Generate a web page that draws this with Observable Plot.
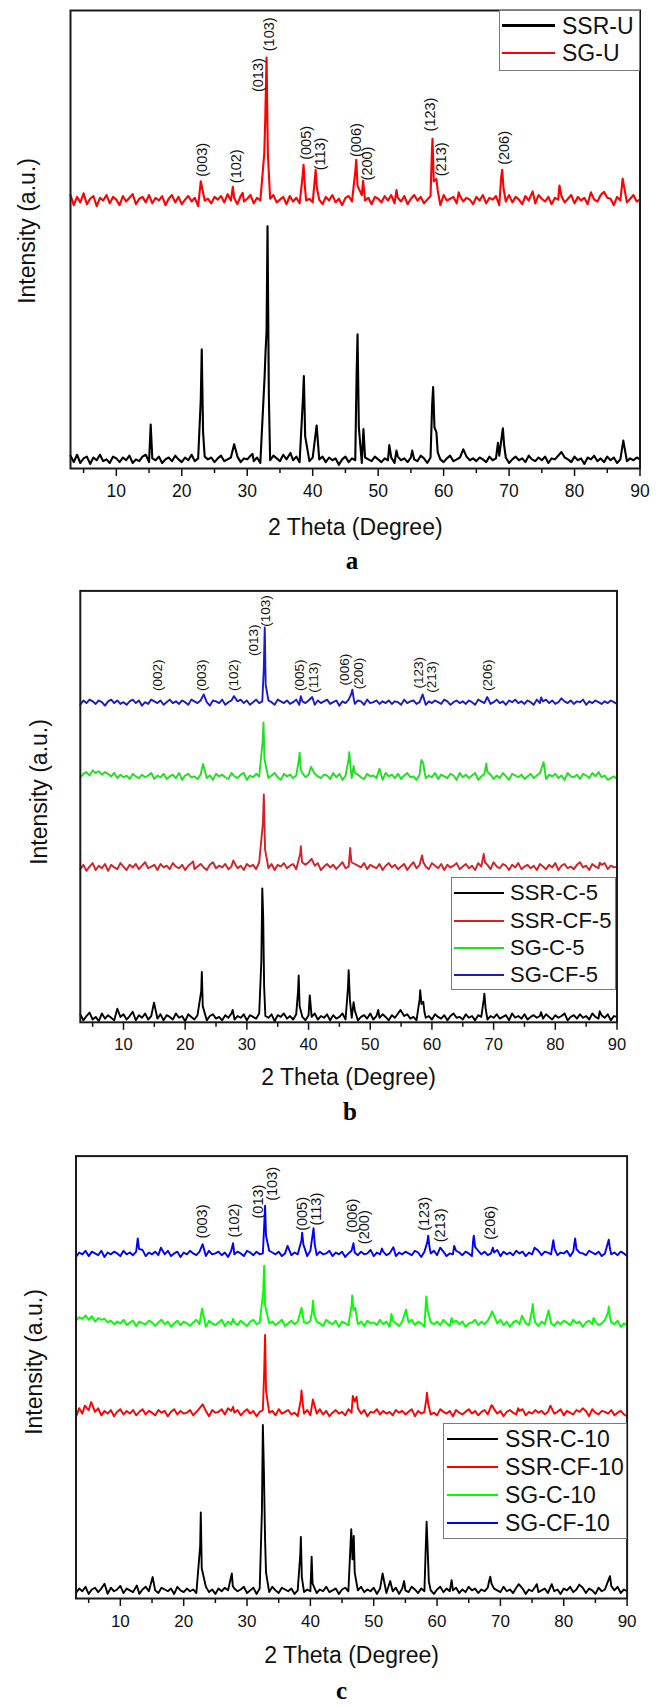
<!DOCTYPE html>
<html><head><meta charset="utf-8">
<script src="https://cdn.jsdelivr.net/npm/d3@7"></script>
<script src="https://cdn.jsdelivr.net/npm/@observablehq/plot@0.6"></script>
<style>
body{margin:0;background:#fff;font-family:"Liberation Sans",Arial,sans-serif;}
#root{position:relative;width:662px;height:1707px;overflow:hidden;}
.panel{position:absolute;left:0;width:662px;}
.legend{position:absolute;background:#fff;border:1px solid #7a7a7a;box-sizing:border-box;}
.sw{position:absolute;height:2.5px;}
.lt{position:absolute;height:30px;line-height:30px;white-space:nowrap;color:#111;font-family:"Liberation Sans",Arial,sans-serif;}
.cap{position:absolute;z-index:10;font-family:"Liberation Serif","Times New Roman",serif;font-weight:bold;font-size:25px;line-height:18px;transform:translate(-50%,-50%);}
.ytitle{position:absolute;z-index:10;white-space:nowrap;font-size:23px;line-height:26px;color:#111;transform:translate(-50%,-50%) rotate(-90deg);font-family:"Liberation Sans",Arial,sans-serif;}
</style></head>
<body><div id="root"></div>
<script>
// ---- shared axis data ----
const twoTheta = d3.range(3, 90.001, 0.5);          // sampling grid (degrees)
const majorTicks = [10, 20, 30, 40, 50, 60, 70, 80, 90];
const minorTicks = [5, 15, 25, 35, 45, 55, 65, 75, 85];
const hkl = ["(003)","(102)","(013)","(103)","(005)","(113)","(006)","(200)","(123)","(213)","(206)"];
const xTitle = "2 Theta (Degree)";
const yTitle = "Intensity (a.u.)";

// ================= Panel a =================
const namesA = ["SSR-U", "SG-U"];
const colorsA = ["#000000", "#ff0000"];
const offsetsA = [0, 567];
const noiseSSRU = [
28,14,30,12,22,26,10,24,18,30,16,20,12,26,22,14,24,18,28,12,20,16,26,30,14,
22,18,26,12,20,24,16,28,20,14,24,18,30,16,22,12,26,20,24,14,22,28,16,20,24,
18,26,14,22,20,28,16,24,12,26,20,18,28,22,16,30,20,24,18,26,14,22,20,16,24,
12,20,26,14,24,18,22,8,20,26,14,22,18,28,12,24,20,16,26,20,14,22,18,24,12,
26,18,22,14,24,20,16,28,22,12,24,18,26,20,14,22,28,16,20,24,12,26,18,22,16,
24,20,14,26,18,22,28,16,24,12,20,26,18,22,14,28,20,16,24,18,26,12,22,20,28,
16,24,20,14,26,18,22,10,24,20,28,16,22,14,26,18,24,12,20,26,16,22,18,24,20];
const peaksSSRU = [[15.25,96],[22.9,150],[23.05,260],[23.25,80],[28.0,53],[30.8,32],
[32.65,200],[32.8,256],[32.95,300],[33.1,529],[33.3,160],[36.6,34],
[38.5,150],[38.65,202],[38.85,70],[40.6,94],[46.7,200],[46.85,293],[47.05,90],[47.75,86],
[51.7,51],[52.8,39],[55.2,39],[58.25,140],[58.4,178],[58.6,90],[58.9,79],[59.1,35],
[63.0,42],[68.3,56],[69.05,88],[69.25,50],[78.0,36],[87.45,61]];
const noiseSGU = [
30,8,26,14,34,10,22,28,6,24,18,30,12,26,20,8,28,16,24,32,10,22,26,14,30,
12,24,18,28,8,22,30,14,26,10,20,28,16,24,6,30,18,22,12,26,20,28,14,32,18,
24,10,28,16,22,30,12,24,18,26,8,22,30,14,20,26,10,28,16,24,12,30,18,22,14,
28,20,10,26,18,30,14,22,8,24,28,16,20,12,30,18,24,10,26,22,14,28,18,30,12,
24,16,28,10,22,30,18,26,12,20,28,14,24,8,30,18,22,26,12,28,16,24,20,10,26,
18,30,12,24,20,28,8,22,16,30,14,26,20,10,28,18,24,12,30,22,16,26,10,24,20,
28,14,22,30,12,26,18,24,10,28,20,16,30,12,24,22,8,26,18,28,14,22,30,16,20];
const peaksSGU = [[22.9,60],[27.8,48],[29.3,35],[32.6,120],[32.75,194],[32.95,330],[33.15,120],
[38.45,70],[38.6,96],[38.8,50],[40.45,85],[40.65,45],[46.5,80],[46.65,107],[46.85,50],[47.7,61],
[52.8,41],[58.2,120],[58.3,153],[58.5,60],[58.9,65],[59.1,40],[62.3,36],
[68.8,70],[68.95,85],[69.15,45],[73.6,38],[77.7,51],[82.5,36],[84.5,37],[87.35,66]];
const labelXA = [23.1, 28.4, 31.7, 33.35, 39.0, 41.1, 46.7, 48.4, 58.0, 59.7, 69.3];
const labelYA = [637, 623, 822, 911, 674, 651, 680, 629, 736, 638, 663];

// ================= Panel b =================
const namesB = ["SSR-C-5", "SSR-CF-5", "SG-C-5", "SG-CF-5"];
const colorsB = ["#000000", "#d42126", "#1fe01f", "#1a1ac8"];
const offsetsB = [-7.5, 341, 550, 722];
const noiseSSRC5 = [
26,12,22,30,14,20,10,28,16,24,18,12,30,20,26,14,22,32,12,24,18,28,14,22,20,
16,26,12,24,20,14,28,18,22,10,26,20,14,24,18,28,12,22,26,16,20,12,24,18,28,
14,22,18,26,12,24,20,16,28,14,22,18,26,10,24,20,28,16,22,14,26,18,20,12,24,
20,28,14,22,18,26,12,24,16,20,28,14,22,18,26,12,20,24,16,28,14,22,18,26,20,
12,24,18,28,14,22,26,16,20,12,24,28,18,22,14,26,20,16,24,12,22,28,18,20,14,
26,18,22,12,24,20,28,14,22,18,26,16,20,24,12,28,18,22,16,26,14,20,24,18,22,
16,26,20,14,24,18,22,28,12,20,24,16,26,18,22,14,28,20,16,24,18,26,12,22,20];
const peaksSSRC5 = [[9.0,39],[14.95,53],[22.6,80],[22.7,124],[22.85,45],[27.7,36],
[32.35,150],[32.5,318],[32.65,250],[32.8,90],[38.3,80],[38.4,116],[38.55,45],[40.2,70],
[46.4,90],[46.5,128],[46.7,60],[47.3,54],[47.5,35],[51.3,36],[54.9,36],
[58.0,60],[58.1,82],[58.3,50],[58.6,55],[58.8,30],[68.4,60],[68.5,74],[68.7,40],[77.7,31],[87.2,33]];
const noiseSSRCF5 = [
14,24,10,20,28,12,22,16,26,10,24,18,14,28,20,12,24,18,26,14,22,30,16,20,24,
12,26,18,22,14,28,20,16,24,12,22,28,14,20,26,18,12,24,30,16,22,18,26,14,20,
28,16,22,12,26,20,24,14,30,18,22,16,26,12,24,20,28,16,22,26,14,20,18,24,30,
16,22,28,12,20,26,18,24,14,22,30,16,20,12,26,22,18,28,14,24,20,16,26,12,22,
28,18,24,14,20,26,12,22,30,16,24,18,20,14,28,22,16,26,12,24,18,22,28,14,20,
26,16,22,12,28,20,18,24,14,30,20,16,26,22,12,24,18,28,14,20,24,16,22,12,26,
20,14,24,18,28,12,22,26,16,20,14,24,30,18,22,12,26,20,16,24,28,14,22,18,20];
const peaksSSRCF5 = [[21.3,32],[27.8,34],[32.6,120],[32.75,187],[32.95,60],
[38.65,50],[38.75,67],[38.95,30],[40.5,38],[46.75,63],[46.95,30],
[58.4,46],[58.6,30],[68.4,49],[68.6,30],[87.2,29]];
const noiseSGC5 = [
18,26,30,22,34,28,32,24,30,26,20,28,16,24,18,22,14,26,20,16,24,18,22,28,14,
22,18,26,14,20,24,16,28,12,22,26,18,20,14,24,28,16,22,12,26,20,24,18,14,28,
20,16,24,28,12,22,18,26,20,14,24,16,22,28,18,12,26,20,24,16,22,14,28,18,24,
12,26,20,16,24,22,14,28,18,26,12,22,20,16,28,24,18,14,26,20,22,16,24,12,28,
20,24,16,26,14,22,28,18,20,12,24,26,16,22,18,28,14,24,20,16,26,22,12,28,18,
24,16,22,28,12,20,26,18,24,14,22,16,28,20,12,26,22,18,24,14,20,26,16,22,28,
18,14,24,20,26,16,22,12,28,20,18,24,14,26,22,16,28,20,30,18,22,12,16,20,14];
const peaksSGC5 = [[22.9,49],[32.55,100],[32.7,145],[32.85,60],[38.45,60],[38.55,75],[38.75,35],
[40.4,42],[46.5,60],[46.6,76],[46.8,40],[47.3,44],[51.5,38],[58.2,50],[58.3,58],[58.6,50],[58.8,30],
[68.7,40],[68.8,50],[69.0,30],[78.1,53],[87.0,30]];
const noiseSGCF5 = [
14,24,18,26,22,16,24,20,12,22,26,18,24,16,20,14,22,26,18,24,12,20,16,26,22,
18,24,14,20,26,18,22,16,24,20,14,26,22,18,24,16,20,12,24,22,18,26,14,20,24,
16,22,26,18,24,14,20,26,18,22,16,24,20,14,26,22,18,24,16,20,26,14,22,18,24,
20,14,24,18,22,26,16,20,24,12,22,18,26,20,16,24,22,14,26,18,20,24,16,22,18,
24,16,22,20,14,26,18,22,24,16,20,26,14,22,18,24,20,16,26,22,14,20,24,18,22,
16,24,20,14,26,22,18,24,16,20,26,18,22,14,24,20,26,18,22,16,24,20,14,26,18,
22,26,18,24,16,20,28,22,18,24,16,22,20,26,14,22,18,24,20,16,22,18,24,20,16];
const peaksSGCF5 = [[23.0,38],[27.9,34],[32.75,100],[32.9,193],[33.05,60],[38.75,34],[40.6,32],
[46.9,38],[47.1,49],[47.3,30],[58.5,38],[68.95,32],[77.7,31],[81.0,29]];
const hklB = ["(002)", ...hkl];
const labelXB = [15.6, 22.7, 27.9, 31.1, 33.0, 38.5, 40.8, 45.9, 48.2, 57.8, 59.9, 69.0];
const labelYB = [768, 768, 768, 849, 917, 768, 764, 781, 772, 774, 764, 768];

// ================= Panel c =================
const namesC = ["SSR-C-10", "SSR-CF-10", "SG-C-10", "SG-CF-10"];
const colorsC = ["#000000", "#ff0000", "#00ff00", "#0000ff"];
const offsetsC = [-1.6, 400, 602, 760];
const noiseSSRC10 = [
14,24,18,28,12,22,26,16,24,20,12,26,18,22,30,14,24,20,16,26,12,22,28,18,24,
20,14,26,22,18,24,12,28,20,16,24,18,22,14,26,20,28,16,22,12,24,18,26,20,14,
24,18,22,28,14,20,26,12,24,18,22,16,28,20,14,26,22,18,24,12,20,26,16,22,18,
26,14,22,18,28,16,20,24,12,22,26,18,14,24,20,28,16,22,18,26,12,24,20,14,22,
18,26,12,24,20,16,28,22,14,24,18,26,20,12,22,28,16,24,18,20,26,14,22,16,28,
20,24,14,22,18,26,12,24,20,16,28,18,22,14,26,20,24,12,22,18,28,16,20,24,14,
26,18,22,12,24,20,28,16,22,18,26,14,24,20,12,26,18,22,16,24,20,28,14,22,18];
const peaksSSRC10 = [[7.5,35],[12.6,31],[15.1,50],[22.6,120],[22.7,196],[22.85,70],[27.6,58],[27.75,30],
[32.35,200],[32.5,394],[32.65,300],[32.85,134],[33.0,60],[38.4,100],[38.5,141],[38.65,50],
[40.2,96],[40.35,35],[46.45,158],[46.65,90],[46.85,143],[47.0,60],[51.4,58],[52.6,41],[54.8,41],
[58.2,110],[58.35,175],[58.5,120],[58.7,40],[62.3,43],[68.2,40],[68.4,51],[68.6,35],
[72.9,34],[75.75,34],[78.1,34],[82.45,33],[87.1,45],[87.3,52],[87.5,30]];
const noiseSSRCF10 = [
10,30,18,36,26,40,22,30,14,24,18,26,12,22,28,16,24,18,26,14,22,28,16,24,20,
14,26,20,24,12,22,28,16,24,18,20,26,14,22,30,18,24,12,26,20,22,28,16,30,24,
20,26,14,22,28,18,24,12,22,26,16,20,24,14,28,18,22,26,16,20,12,24,18,26,14,
22,18,28,16,24,12,20,26,18,22,14,28,20,16,24,18,26,12,22,20,28,16,24,18,22,
14,26,20,24,16,22,28,12,24,18,22,26,16,20,14,28,22,18,24,12,26,20,16,22,28,
18,24,14,22,26,16,20,28,18,24,12,22,26,20,16,24,28,14,22,18,26,20,24,16,22,
26,18,22,28,14,24,20,16,26,22,18,24,12,28,20,16,24,22,18,26,14,20,24,16,12];
const peaksSSRCF10 = [[4.4,36],[5.4,44],[23.0,39],[27.8,33],[32.7,110],[32.85,196],[33.0,70],
[38.5,50],[38.6,70],[38.8,40],[40.4,50],[46.7,58],[47.0,45],[47.3,56],[47.5,30],
[58.3,50],[58.4,65],[58.6,40],[68.6,37],[68.8,34],[72.8,30],[77.9,36],[83.0,30]];
const noiseSGC10 = [
26,34,30,38,28,36,24,32,28,30,22,26,18,24,20,28,16,22,26,14,24,20,18,26,22,
14,22,28,18,24,12,20,26,16,24,20,14,22,28,18,24,12,26,20,16,22,28,14,24,18,
22,16,26,20,14,24,28,18,22,12,26,20,24,16,22,28,14,20,26,18,24,12,22,20,26,
16,24,20,14,28,22,18,26,12,24,20,16,22,28,18,24,14,26,20,22,16,28,18,24,12,
26,20,14,24,18,22,28,16,24,20,12,26,22,18,24,16,28,20,14,22,26,18,24,12,20,
22,28,16,24,18,26,14,22,20,28,16,24,12,22,26,18,24,20,16,28,22,14,24,18,26,
20,14,24,18,26,22,16,28,20,24,12,22,26,18,24,16,20,28,14,22,18,26,12,20,16];
const peaksSGC10 = [[22.9,53],[27.8,30],[32.55,90],[32.7,150],[32.85,60],[38.6,55],[40.3,50],[40.4,71],[40.6,40],
[46.5,60],[46.6,83],[46.8,50],[47.1,55],[47.3,35],[52.8,41],[55.1,51],[58.2,60],[58.3,81],[58.5,50],
[62.3,32],[68.5,40],[68.7,47],[68.9,40],[73.4,37],[75.0,50],[75.1,64],[75.3,35],[77.6,49],[84.7,32],
[87.0,45],[87.1,58],[87.3,35]];
const noiseSGCF10 = [
12,22,18,26,14,24,20,16,26,12,22,18,24,20,14,26,18,22,16,24,20,28,14,22,18,
24,16,22,18,26,14,20,24,12,22,18,26,20,16,24,22,14,26,18,20,24,16,22,12,26,
18,24,20,14,26,22,16,24,18,20,12,26,22,18,24,14,20,26,16,22,18,24,20,14,26,
22,16,24,18,20,26,14,22,18,24,12,20,26,22,16,24,18,20,28,14,22,18,24,16,20,
26,14,22,18,24,20,16,26,22,12,24,18,20,26,16,22,24,14,20,18,26,22,16,24,20,
14,22,26,18,24,16,20,22,28,14,24,18,22,16,26,20,24,14,22,18,20,26,16,24,22,
18,24,16,22,20,26,14,24,18,22,20,16,26,22,18,24,14,20,26,18,22,16,24,20,14];
const peaksSGCF10 = [[12.75,54],[12.95,30],[16.4,33],[23.0,41],[27.8,43],[32.7,80],[32.85,128],[33.0,60],
[36.4,37],[38.6,50],[38.7,67],[38.9,40],[40.5,77],[40.7,40],[46.8,43],[51.3,31],[53.1,34],
[58.45,45],[58.6,60],[58.8,35],[60.5,33],[62.7,37],[65.7,50],[65.8,60],[66.0,35],
[68.8,33],[75.4,33],[78.35,50],[78.55,30],[81.7,45],[81.8,54],[82.0,30],[87.1,51],[87.3,30]];
const labelXC = [22.9, 28.0, 31.85, 34.05, 38.7, 40.9, 46.6, 48.5, 58.0, 60.5, 68.4];
const labelYC = [814, 816, 859, 899, 831, 843, 827, 801, 831, 805, 811];

// ---------- build ----------
function traceRows(name, noise, peaks, offset) {
  const pts = twoTheta.slice(0, noise.length).map((x, i) => [x, noise[i]])
    .filter(([x]) => !peaks.some(p => Math.abs(p[0] - x) < 0.19));
  const all = pts.concat(peaks).sort((a, b) => a[0] - b[0]);
  return all.map(([x, v]) => ({name, x, y: v + offset}));
}

const root = document.getElementById("root");
const overlays = [];

function panel(cfg) {
  const rows = cfg.series.flatMap(s => traceRows(s[0], s[1], s[2], s[3]));
  const labels = cfg.labelText.map((t, i) => ({t, x: cfg.labelX[i], y: cfg.labelY[i]}));
  const chart = Plot.plot({
    width: 662, height: cfg.height,
    marginLeft: cfg.ml, marginRight: cfg.mr, marginTop: cfg.mt, marginBottom: cfg.mb,
    style: {fontFamily: "'Liberation Sans', Arial, sans-serif", background: "#fff", color: "#111"},
    x: {domain: [3, 90], axis: null},
    y: {domain: [0, 1000], axis: null},
    color: {domain: cfg.names, range: cfg.colors},
    marks: [
      Plot.line(rows, {x: "x", y: "y", z: "name", stroke: "name", strokeWidth: cfg.sw, strokeLinejoin: "round"}),
      Plot.axisX(minorTicks, {tickSize: 5, strokeWidth: 1.5, tickFormat: () => "", label: null}),
      Plot.axisX(majorTicks, {tickSize: 8, strokeWidth: 1.5, tickPadding: 8, fontSize: cfg.tickFont, tickFormat: d => d, label: null}),
      Plot.frame({stroke: "#1a1a1a", strokeWidth: 2}),
      Plot.text(labels, {x: "x", y: "y", text: "t", rotate: -90, textAnchor: "start", lineAnchor: "middle", fontSize: cfg.hklFont, fill: "#111"}),
      Plot.text([xTitle], {text: d => d, frameAnchor: "bottom", textAnchor: "middle", lineAnchor: "middle", dy: cfg.xtDy, fontSize: 23, fill: "#111"})
    ]
  });
  const wrap = document.createElement("div");
  wrap.className = "panel";
  wrap.style.top = cfg.top + "px";
  wrap.appendChild(chart);
  // legend
  const lg = document.createElement("div");
  lg.className = "legend";
  Object.assign(lg.style, {left: cfg.lg.x0 + "px", top: (cfg.lg.y0 - cfg.top) + "px",
    width: (cfg.lg.x1 - cfg.lg.x0) + "px", height: (cfg.lg.y1 - cfg.lg.y0) + "px"});
  cfg.names.forEach((n, i) => {
    const cy = cfg.lg.rows[i] - cfg.lg.y0;
    const sw = document.createElement("div");
    sw.className = "sw";
    Object.assign(sw.style, {left: (cfg.lg.s0 - cfg.lg.x0) + "px", width: (cfg.lg.s1 - cfg.lg.s0) + "px",
      top: (cy - 1.25) + "px", background: cfg.colors[i]});
    const tx = document.createElement("div");
    tx.className = "lt";
    tx.textContent = n;
    Object.assign(tx.style, {left: (cfg.lg.t - cfg.lg.x0) + "px", top: (cy - 15) + "px", fontSize: cfg.lg.font + "px"});
    lg.appendChild(sw); lg.appendChild(tx);
  });
  wrap.appendChild(lg);
  root.appendChild(wrap);
  overlays.push(["cap", cfg.cap[0], cfg.cap[1], cfg.cap[2]]);
  overlays.push(["ytitle", yTitle, cfg.yt[0], cfg.yt[1]]);
}

panel({
  top: 0, height: 545, ml: 70, mr: 22.5, mt: 10, mb: 77, sw: 2.1,
  names: namesA, colors: colorsA, tickFont: 17.5, hklFont: 14.5,
  series: [[namesA[0], noiseSSRU, peaksSSRU, offsetsA[0]], [namesA[1], noiseSGU, peaksSGU, offsetsA[1]]],
  labelText: hkl, labelX: labelXA, labelY: labelYA,
  xtDy: 59, yt: [27, 231],
  lg: {x0: 498.5, x1: 639.5, y0: 10, y1: 71, rows: [24.5, 52], s0: 501, s1: 554, t: 561, font: 23},
  cap: ["a", 352, 561]
});
panel({
  top: 560, height: 540, ml: 79.8, mr: 45.5, mt: 30.4, mb: 78.2, sw: 1.9,
  names: namesB, colors: colorsB, tickFont: 16.5, hklFont: 13.5,
  series: namesB.map((n, i) => [n, [noiseSSRC5, noiseSSRCF5, noiseSGC5, noiseSGCF5][i],
    [peaksSSRC5, peaksSSRCF5, peaksSGC5, peaksSGCF5][i], offsetsB[i]]),
  labelText: hklB, labelX: labelXB, labelY: labelYB,
  xtDy: 55, yt: [39, 792],
  lg: {x0: 450.6, x1: 616.5, y0: 876.8, y1: 990, rows: [892, 920, 947, 974], s0: 453, s1: 503, t: 509, font: 22},
  cap: ["b", 350, 1112]
});
panel({
  top: 1120, height: 560, ml: 75.5, mr: 35.4, mt: 35.6, mb: 82, sw: 1.9,
  names: namesC, colors: colorsC, tickFont: 17, hklFont: 14.5,
  series: namesC.map((n, i) => [n, [noiseSSRC10, noiseSSRCF10, noiseSGC10, noiseSGCF10][i],
    [peaksSSRC10, peaksSSRCF10, peaksSGC10, peaksSGCF10][i], offsetsC[i]]),
  labelText: hkl, labelX: labelXC, labelY: labelYC,
  xtDy: 57, yt: [34, 1362],
  lg: {x0: 442.5, x1: 626.6, y0: 1422.5, y1: 1538.6, rows: [1438, 1466, 1494, 1522], s0: 445.5, s1: 497, t: 504, font: 23},
  cap: ["c", 341.5, 1691]
});
for (const [cls, text, x, y] of overlays) {
  const el = document.createElement("div");
  el.className = cls;
  el.textContent = text;
  Object.assign(el.style, {left: x + "px", top: y + "px"});
  root.appendChild(el);
}
</script></body></html>
